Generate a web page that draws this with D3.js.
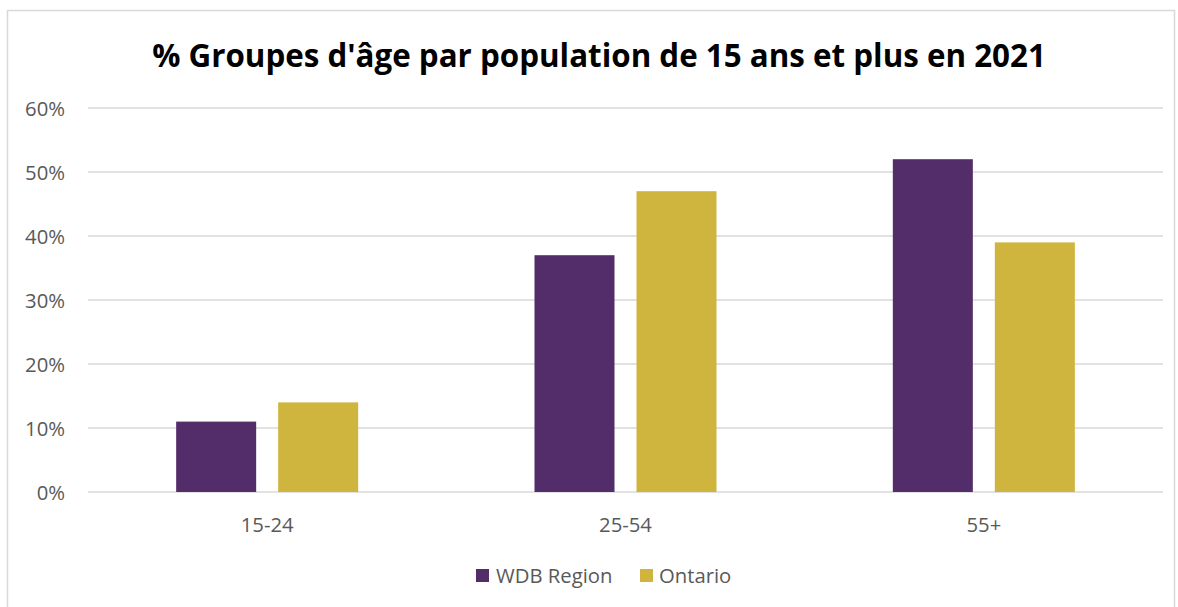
<!DOCTYPE html>
<html><head><meta charset="utf-8">
<script src="https://cdn.jsdelivr.net/npm/d3@7"></script>
<style>html,body{margin:0;padding:0;background:#fff;}svg{display:block;}</style>
</head><body>
<svg id="c" width="1178" height="607"></svg>
<script>
const categories = ["15-24", "25-54", "55+"];
const seriesNames = ["WDB Region", "Ontario"];
const wdbValues = [11, 37, 52];
const ontarioValues = [14, 47, 39];
const yTicks = [0, 10, 20, 30, 40, 50, 60];
const title = "% Groupes d'âge par population de 15 ans et plus en 2021";

(function () {
const colors = ["#532C6A", "#CFB43D"];
const font = "'Open Sans', 'Liberation Sans', sans-serif";
const fs = 20.3;
const svg = d3.select("#c");

svg.append("rect").attr("x", 7.5).attr("y", 10.5).attr("width", 1167).attr("height", 620)
  .attr("fill", "#fff").attr("stroke", "#D9D9D9").attr("stroke-width", 1.5);

const pLeft = 88, pRight = 1163, pTop = 108, pBottom = 492;
const x = d3.scaleBand().domain(categories).range([pLeft, pRight]).paddingInner(0).paddingOuter(0);
const y = d3.scaleLinear().domain([0, 60]).range([pBottom, pTop]);
const inner = d3.scaleBand().domain(seriesNames).range([0, 182]).paddingInner(22/102);

// gridlines
svg.append("g").selectAll("line").data(yTicks).join("line")
  .attr("x1", pLeft).attr("x2", pRight)
  .attr("y1", d => y(d)).attr("y2", d => y(d))
  .attr("stroke", "#D9D9D9").attr("stroke-width", 1.5);

// y axis labels
const yAxis = d3.axisLeft(y).tickValues(yTicks).tickFormat(d => d + "%").tickSize(0).tickPadding(0);
const gy = svg.append("g").attr("transform", `translate(65,0)`).call(yAxis);
gy.select(".domain").remove();
gy.selectAll("text").attr("font-family", font).attr("font-size", fs).attr("fill", "#595959").attr("dy", "0.35em");

// bars
const data = categories.map((c, i) => ({cat: c, vals: [wdbValues[i], ontarioValues[i]]}));
const groups = svg.append("g").selectAll("g").data(data).join("g")
  .attr("transform", d => `translate(${x(d.cat) + x.bandwidth()/2 - 91},0)`);
groups.selectAll("rect").data(d => d.vals.map((v, j) => ({name: seriesNames[j], v, j}))).join("rect")
  .attr("x", d => inner(d.name)).attr("width", inner.bandwidth())
  .attr("y", d => y(d.v)).attr("height", d => y(0) - y(d.v))
  .attr("fill", d => colors[d.j]);

// x axis labels
const xAxis = d3.axisBottom(x).tickSize(0).tickPadding(0);
const gx = svg.append("g").attr("transform", `translate(0,${pBottom + 33})`).call(xAxis);
gx.select(".domain").remove();
gx.selectAll("text").attr("font-family", font).attr("font-size", fs).attr("fill", "#595959").attr("dy", "0.35em");

// title
const t = svg.append("text").attr("x", 599).attr("y", 67).attr("text-anchor", "middle")
  .attr("font-family", font).attr("font-weight", "bold").attr("font-size", 28).attr("fill", "#000").text(title);
const w = t.node().getComputedTextLength();
t.attr("font-size", 28 * 894 / w);

// legend
const legendItems = [{name: seriesNames[0], x: 476, tx: 496}, {name: seriesNames[1], x: 640, tx: 659}];
const lg = svg.append("g");
lg.selectAll("rect").data(legendItems).join("rect")
  .attr("x", d => d.x).attr("y", 569).attr("width", 13).attr("height", 13)
  .attr("fill", (d, i) => colors[i]);
lg.selectAll("text").data(legendItems).join("text")
  .attr("x", d => d.tx).attr("y", 576).attr("dy", "0.35em")
  .attr("font-family", font).attr("font-size", fs).attr("fill", "#595959").text(d => d.name);
})();
</script>
</body></html>
